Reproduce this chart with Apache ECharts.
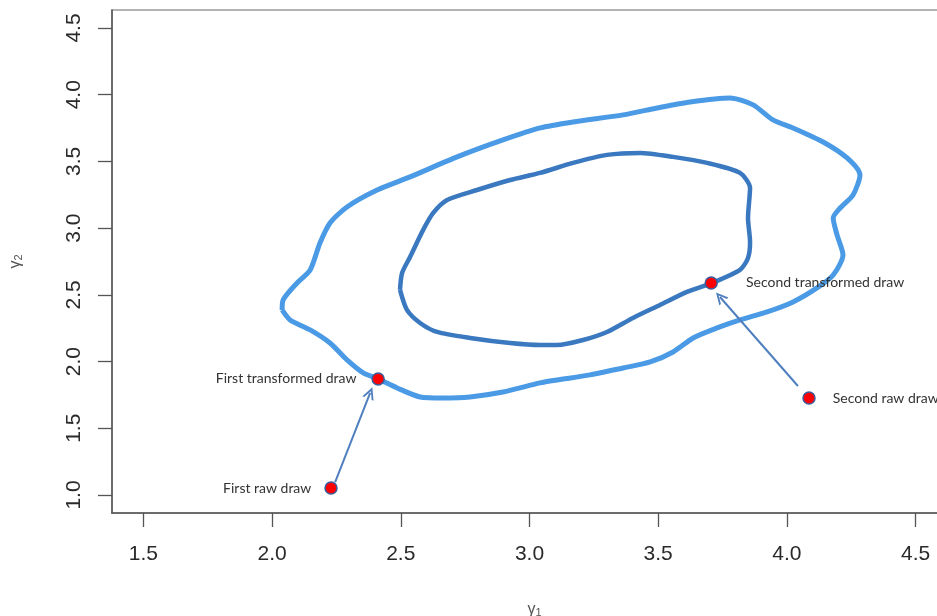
<!DOCTYPE html>
<html>
<head>
<meta charset="utf-8">
<script src="https://cdn.jsdelivr.net/npm/echarts@6/dist/echarts.min.js"></script>
<style>
html,body{margin:0;padding:0;background:#fff;}
#chart{width:937px;height:616px;}
</style>
</head>
<body>
<div id="chart"></div>
<script>
// ---- data ----
const xTicks = [1.5, 2.0, 2.5, 3.0, 3.5, 4.0, 4.5];
const yTicks = [1.0, 1.5, 2.0, 2.5, 3.0, 3.5, 4.0, 4.5];

// outer contour (light blue)
const outerX = [2.039,2.043,2.097,2.148,2.186,2.225,2.291,2.408,2.536,2.719,2.897,3.041,3.169,3.364,3.496,3.624,3.779,3.869,3.946,4.024,4.141,4.234,4.284,4.257,4.207,4.180,4.195,4.218,4.180,4.117,4.024,3.923,3.818,3.729,3.636,3.558,3.469,3.364,3.235,3.107,3.041,2.897,2.769,2.664,2.575,2.486,2.412,2.354,2.291,2.225,2.148,2.070,2.039];
const outerY = [2.387,2.462,2.589,2.687,2.889,3.039,3.159,3.286,3.384,3.534,3.661,3.751,3.796,3.849,3.901,3.946,3.976,3.924,3.811,3.751,3.646,3.526,3.399,3.249,3.151,3.076,2.949,2.799,2.649,2.552,2.447,2.372,2.312,2.252,2.177,2.072,1.997,1.952,1.900,1.862,1.840,1.772,1.735,1.727,1.735,1.802,1.870,1.915,2.012,2.139,2.237,2.312,2.387];

// inner contour (dark blue)
const innerX = [2.497,2.505,2.536,2.587,2.626,2.680,2.796,2.925,3.041,3.169,3.301,3.430,3.558,3.690,3.818,3.857,3.849,3.857,3.849,3.818,3.709,3.612,3.507,3.402,3.301,3.208,3.107,3.041,2.925,2.769,2.641,2.575,2.524,2.497];
const innerY = [2.537,2.664,2.784,2.987,3.114,3.211,3.286,3.361,3.414,3.489,3.549,3.564,3.534,3.489,3.414,3.301,3.076,2.897,2.777,2.687,2.589,2.522,2.424,2.327,2.222,2.162,2.124,2.124,2.139,2.177,2.222,2.289,2.387,2.537];

// draws
const drawNames = ["First raw draw", "First transformed draw", "Second raw draw", "Second transformed draw"];
const drawX = [2.229, 2.412, 4.086, 3.706];
const drawY = [1.052, 1.870, 1.727, 2.589];

// arrows (raw -> transformed)
const arrowFromX = [2.245, 4.043];
const arrowFromY = [1.097, 1.817];
const arrowToX = [2.381, 3.740];
const arrowToY = [1.765, 2.484];

// ---- chart ----
const zip = (a, b) => a.map((v, i) => [v, b[i]]);
const labelPos = ['left', 'left', 'right', 'right'];
const labelDist = [13, 15, 17, 28];

const chart = echarts.init(document.getElementById('chart'), null, {renderer: 'canvas'});
const axisFont = 'Liberation Sans, Arial, sans-serif';
chart.setOption({
  animation: false,
  backgroundColor: '#ffffff',
  grid: {left: 112, top: 10, right: -20, bottom: 103, containLabel: false, outerBoundsMode: 'none',
         show: true, borderColor: '#9a9a9a', borderWidth: 1.5, backgroundColor: 'transparent'},
  xAxis: {
    type: 'value', min: 1.378, max: 4.661,
    splitLine: {show: false},
    axisLine: {show: true, onZero: false, lineStyle: {color: '#555', width: 1.5}},
    axisTick: {show: true, length: 14, lineStyle: {color: '#555', width: 1.3}, customValues: xTicks},
    axisLabel: {customValues: xTicks, formatter: v => v.toFixed(1), color: '#2a2a2a', fontSize: 21, fontFamily: axisFont, margin: 31},
    name: '{g|γ}{s|1}', nameLocation: 'middle', nameGap: 88,
    nameTextStyle: {rich: {g: {fontSize: 16, color: '#555', fontFamily: axisFont}, s: {fontSize: 11, color: '#555', fontFamily: axisFont, padding: [6, 0, 0, 0]}}}
  },
  yAxis: {
    type: 'value', min: 0.865, max: 4.635,
    splitLine: {show: false},
    axisLine: {show: true, onZero: false, lineStyle: {color: '#555', width: 1.5}},
    axisTick: {show: true, length: 14, lineStyle: {color: '#555', width: 1.3}, customValues: yTicks},
    axisLabel: {customValues: yTicks, formatter: v => v.toFixed(1), color: '#2a2a2a', fontSize: 21, fontFamily: axisFont, rotate: 90, margin: 27},
    name: '{g|γ}{s|2}', nameLocation: 'middle', nameGap: 88,
    nameTextStyle: {rich: {g: {fontSize: 16, color: '#555', fontFamily: axisFont}, s: {fontSize: 11, color: '#555', fontFamily: axisFont, padding: [6, 0, 0, 0]}}}
  },
  series: [
    {
      type: 'line', data: zip(outerX, outerY), showSymbol: false, symbol: 'none', smooth: 0.25,
      lineStyle: {color: '#4a9ae6', width: 5}, z: 2
    },
    {
      type: 'line', data: zip(innerX, innerY), showSymbol: false, symbol: 'none', smooth: 0.25,
      lineStyle: {color: '#3a78bf', width: 4.5}, z: 3
    },
    {
      type: 'lines', coordinateSystem: 'cartesian2d',
      symbol: ['none', 'path://M5,0 L10,10 L8.3,10 L5,3.4 L1.7,10 L0,10 Z'], symbolSize: 12,
      lineStyle: {color: '#4f7fbf', width: 2, opacity: 1},
      data: arrowFromX.map((x, i) => ({coords: [[x, arrowFromY[i]], [arrowToX[i], arrowToY[i]]]})),
      z: 4
    },
    {
      type: 'scatter', symbolSize: 12,
      itemStyle: {color: '#ff0000', borderColor: '#3d5c9a', borderWidth: 1.5, opacity: 1},
      data: drawX.map((x, i) => ({
        value: [x, drawY[i]], name: drawNames[i],
        label: {show: true, position: labelPos[i], distance: labelDist[i], formatter: drawNames[i]}
      })),
      label: {color: '#333', fontSize: 14, fontFamily: 'Lato, Noto Sans, sans-serif'},
      z: 5
    }
  ]
});
</script>
</body>
</html>
